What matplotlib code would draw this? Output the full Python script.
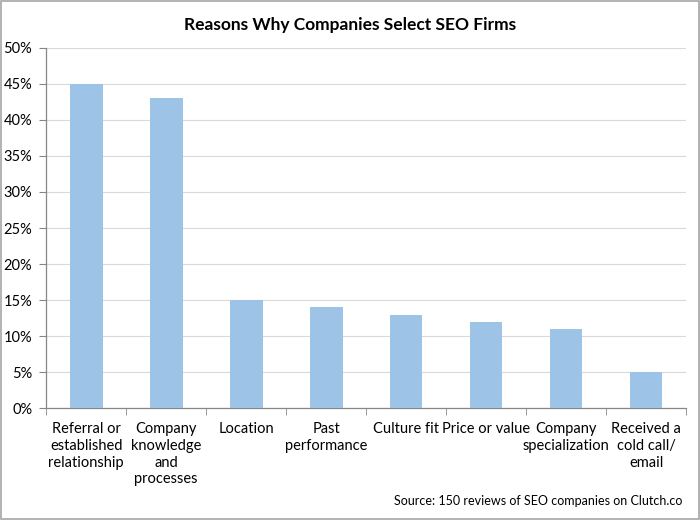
import numpy as np
import matplotlib
matplotlib.use("Agg")
import matplotlib.pyplot as plt
from matplotlib.patches import Rectangle

categories = ["Referral or\nestablished\nrelationship", "Company\nknowledge\nand\nprocesses",
              "Location", "Past\nperformance", "Culture fit", "Price or value",
              "Company\nspecialization", "Received a\ncold call/\nemail"]
shares = [45, 43, 15, 14, 13, 12, 11, 5]
yticks = [0, 5, 10, 15, 20, 25, 30, 35, 40, 45, 50]

plt.rcParams["font.family"] = ["Lato", "DejaVu Sans"]

fig = plt.figure(figsize=(7.0, 5.2), dpi=100)
ax = fig.add_axes([0.066, 0.215, 0.914, 0.693])

x = np.arange(len(categories))
ax.bar(x, shares, width=0.41, color="#9DC3E6", zorder=3)

ax.set_xlim(-0.5, len(categories) - 0.5)
ax.set_ylim(0, 50)
ax.set_yticks(yticks)
ax.set_yticklabels([f"{v}%" for v in yticks], fontsize=10.5)
ax.yaxis.grid(True, color="#D9D9D9", lw=0.8, zorder=0)

ax.set_xticks(x)
ax.set_xticklabels(categories, fontsize=10.5, linespacing=1.25, va="top")
ax.tick_params(axis="x", length=0, pad=10)
ax.set_xticks(np.arange(-0.5, len(categories)), minor=True)
ax.tick_params(axis="x", which="minor", length=5, color="#878787", direction="out")
ax.tick_params(axis="y", length=5, color="#878787", pad=5)

for side in ("top", "right"):
    ax.spines[side].set_visible(False)
for side in ("left", "bottom"):
    ax.spines[side].set_color("#878787")
    ax.spines[side].set_linewidth(0.9)

fig.text(0.5, 0.951, "Reasons Why Companies Select SEO Firms", ha="center", va="center",
         fontsize=12.5, fontweight="bold")
fig.text(0.975, 0.037, "Source: 150 reviews of SEO companies on Clutch.co", ha="right",
         va="center", fontsize=9)

fig.add_artist(Rectangle((0.002, 0.002), 0.996, 0.996, transform=fig.transFigure,
                         fill=False, edgecolor="#A6A6A6", lw=1.2))

fig.savefig("out.png", dpi=100)
